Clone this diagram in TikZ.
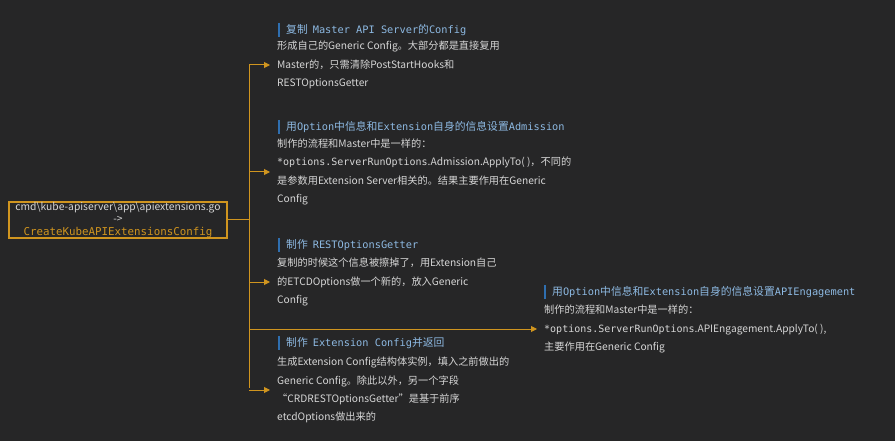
\documentclass[tikz,border=0pt]{standalone}
\usepackage{fontspec}
\setmainfont{Noto Sans CJK SC}
\setmonofont{DejaVu Sans Mono}
\usetikzlibrary{arrows.meta,calc}
\definecolor{bg}{HTML}{262627}
\definecolor{org}{HTML}{D0951F}
\definecolor{txt}{HTML}{D6D6D6}
\definecolor{ttl}{HTML}{8DB9E2}
\definecolor{barc}{HTML}{2F6FB0}
\tikzset{
  conn/.style={draw=org, line width=1pt},
  arr/.style={conn, -{Triangle[width=6pt,length=6pt]}},
  body/.style={anchor=west, align=left, text=txt, inner xsep=7pt, inner ysep=0pt,
    font=\fontsize{10.2}{18.3}\selectfont},
  ttlnode/.style={anchor=west, text=ttl, inner sep=0pt, font=\fontsize{10.8}{12}\selectfont},
  tbar/.style={draw=barc, line width=1.8pt},
  rootbox/.style={draw=org, line width=1.1pt, minimum width=218pt, minimum height=36pt,
    align=center, text=txt, inner sep=0pt, font=\fontsize{10.3}{12.2}\selectfont}
}
\newcommand{\mt}[1]{{\fontsize{10}{12}\selectfont\ttfamily #1}}
\newcommand{\tm}[1]{{\fontsize{10.3}{12}\selectfont\ttfamily #1}}
\begin{document}
\begin{tikzpicture}[x=1pt,y=-1pt]
\useasboundingbox (0,0) rectangle (895,441);
\fill[bg] (0,0) rectangle (895,441);

% root
\node[rootbox] (root) at (118,220) {cmd\textbackslash kube-apiserver\textbackslash app\textbackslash apiextensions.go\\->\\{\color{org}\fontsize{10.8}{12.2}\selectfont\ttfamily CreateKubeAPIExtensionsConfig}};

\coordinate (j) at (249,220);
\coordinate (ttop) at (249,65);
\coordinate (tbot) at (249,388);

% block 1
\node[ttlnode] (t1) at (286,30) {复制\hspace{5pt}\tm{Master API Server}的\tm{Config}};
\node[body] (b1) at (270,65) {形成自己的Generic Config。大部分都是直接复用\\Master的，只需清除PostStartHooks和\\RESTOptionsGetter};

% block 2
\node[ttlnode] (t2) at (286,127) {用\tm{Option}中信息和\tm{Extension}自身的信息设置\tm{Admission}};
\node[body] (b2) at (270,172) {制作的流程和Master中是一样的：\\\mt{*options.ServerRunOptions}.Admission.ApplyTo( )，不同的\\是参数用Extension Server相关的。结果主要作用在Generic\\Config};

% block 3
\node[ttlnode] (t3) at (286,245) {制作\hspace{5pt}\tm{RESTOptionsGetter}};
\node[body] (b3) at (270,282) {复制的时候这个信息被擦掉了，用Extension自己\\的ETCDOptions做一个新的，放入Generic\\Config};

% block 4
\node[ttlnode] (t4) at (286,343) {制作\hspace{5pt}\tm{Extension Config}并返回};
\node[body] (b4) at (270,390) {生成Extension Config结构体实例，填入之前做出的\\Generic Config。除此以外，另一个字段\\“CRDRESTOptionsGetter”是基于前序\\etcdOptions做出来的};

% block 5
\node[ttlnode] (t5) at (552,292) {用\tm{Option}中信息和\tm{Extension}自身的信息设置\tm{APIEngagement}};
\node[body] (b5) at (537,329) {制作的流程和Master中是一样的：\\\mt{*options.ServerRunOptions}.APIEngagement.ApplyTo( ),\\主要作用在Generic Config};

% title bars
\foreach \t in {t1,t2,t3,t4,t5}{
  \draw[tbar] ($(\t.west)+(-7,-7)$) -- ($(\t.west)+(-7,7)$);
}

% connectors
\draw[conn] (root.east) -- (j);
\draw[conn] (ttop) -- (tbot);
\draw[arr] (b1.west -| j) -- (b1.west);
\draw[arr] (b2.west -| j) -- (b2.west);
\draw[arr] (b3.west -| j) -- (b3.west);
\draw[arr] (b4.west -| j) -- (b4.west);
\draw[arr] (b5.west -| j) -- (b5.west);
\end{tikzpicture}
\end{document}
